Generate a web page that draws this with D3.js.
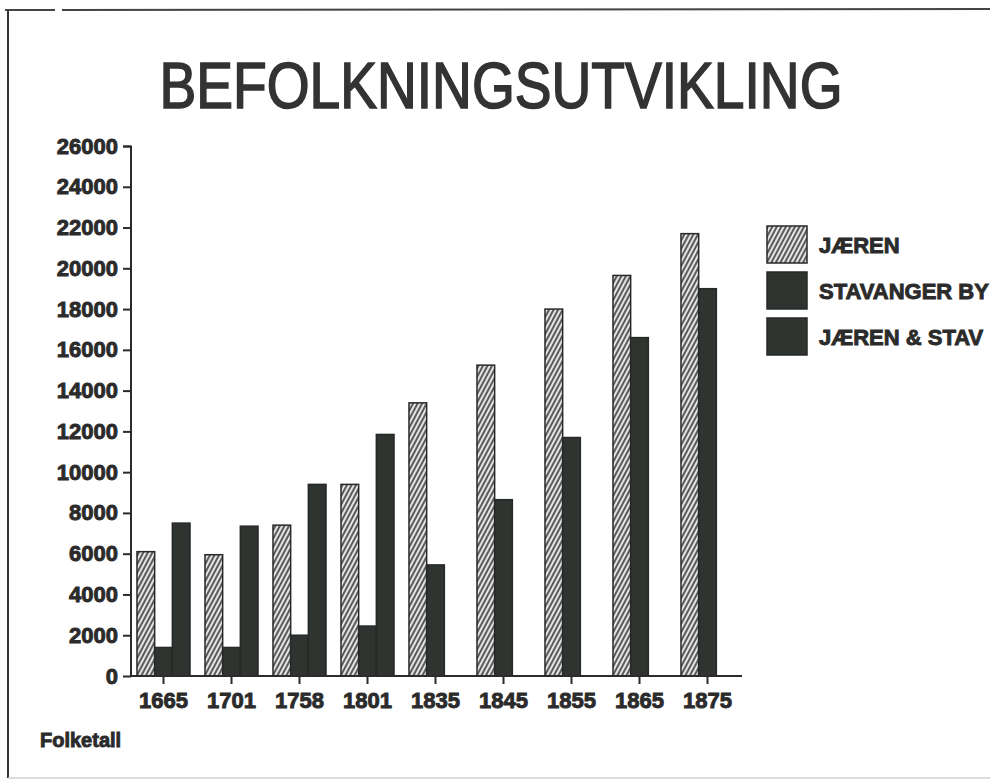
<!DOCTYPE html>
<html lang="no">

<head>
	<meta charset="utf-8">
	<title>Befolkningsutvikling</title>
	<script type="text/javascript" src="https://cdnjs.cloudflare.com/ajax/libs/d3/7.8.5/d3.min.js"></script>
	<style type="text/css">
		body {
			margin: 0;
			background: #ffffff;
		}

		svg {
			display: block;
			font-family: "Liberation Sans", Arial, sans-serif;
		}

		.lbl {
			font-weight: bold;
			fill: #2b2b2b;
			stroke: #2b2b2b;
			stroke-width: 0.9px;
		}
	</style>
</head>

<body>
	<script type="text/javascript">
		//Data
		var years = ["1665", "1701", "1758", "1801", "1835", "1845", "1855", "1865", "1875"];
		var jaeren = [6100, 5950, 7400, 9400, 13400, 15250, 18000, 19650, 21700];
		var stavangerBy = [1400, 1400, 2000, 2450, 5450, 8650, 11700, 16600, 19000];
		var jaerenStav = [7500, 7350, 9400, 11850, null, null, null, null, null];
		// legend text as far as it is visible on the scan
		var seriesNames = ["JÆREN", "STAVANGER BY", "JÆREN & STAV"];
		var yTicks = [0, 2000, 4000, 6000, 8000, 10000, 12000, 14000, 16000, 18000, 20000, 22000, 24000, 26000];

		//Width and height
		var w = 990;
		var h = 781;

		var dark = "#2f3430";
		var ink = "#2b2b2b";

		var svg = d3.select("body")
			.append("svg")
			.attr("width", w)
			.attr("height", h);

		//Hatch pattern for Jæren
		var defs = svg.append("defs");
		var pat = defs.append("pattern")
			.attr("id", "hatch")
			.attr("patternUnits", "userSpaceOnUse")
			.attr("width", 4)
			.attr("height", 4)
			.attr("patternTransform", "rotate(28)");
		pat.append("rect")
			.attr("width", 4)
			.attr("height", 4)
			.attr("fill", "#e4e4e4");
		pat.append("line")
			.attr("x1", 1).attr("y1", 0)
			.attr("x2", 1).attr("y2", 4)
			.attr("stroke", "#383838")
			.attr("stroke-width", 1.6);

		//Page frame from the scan
		svg.append("line")
			.attr("x1", 8).attr("y1", 10).attr("x2", 8).attr("y2", 778)
			.attr("stroke", "#333").attr("stroke-width", 2);
		svg.append("line")
			.attr("x1", 5).attr("y1", 10).attr("x2", 55).attr("y2", 10)
			.attr("stroke", "#444").attr("stroke-width", 2);
		svg.append("line")
			.attr("x1", 62).attr("y1", 10).attr("x2", 990).attr("y2", 9)
			.attr("stroke", "#444").attr("stroke-width", 2);
		svg.append("line")
			.attr("x1", 8).attr("y1", 778).attr("x2", 990).attr("y2", 778)
			.attr("stroke", "#d0d0d0").attr("stroke-width", 1.5);

		//Title
		svg.append("text")
			.attr("x", 501)
			.attr("y", 108)
			.attr("text-anchor", "middle")
			.attr("textLength", 683)
			.attr("lengthAdjust", "spacingAndGlyphs")
			.style("font-size", "64px")
			.style("fill", "#333")
			.style("stroke", "#333")
			.style("stroke-width", "1.6px")
			.text("BEFOLKNINGSUTVIKLING");

		//Scales
		var x0 = d3.scaleBand()
			.domain(years)
			.range([131, 740])
			.paddingInner(0.22)
			.paddingOuter(0.088);

		var x1 = d3.scaleBand()
			.domain([0, 1, 2])
			.range([0, x0.bandwidth()]);

		var y = d3.scaleLinear()
			.domain([0, 26000])
			.range([676, 146]);

		//Bars
		var rows = years.map(function(yr, i) {
			return { year: yr, values: [jaeren[i], stavangerBy[i], jaerenStav[i]] };
		});

		var groups = svg.selectAll("g.year")
			.data(rows)
			.enter()
			.append("g")
			.attr("class", "year")
			.attr("transform", function(d) { return "translate(" + x0(d.year) + ",0)"; });

		groups.selectAll("rect")
			.data(function(d) {
				return d.values.map(function(v, k) { return { k: k, v: v }; })
					.filter(function(e) { return e.v != null; });
			})
			.enter()
			.append("rect")
			.attr("x", function(d) { return x1(d.k); })
			.attr("y", function(d) { return y(d.v); })
			.attr("width", x1.bandwidth())
			.attr("height", function(d) { return y(0) - y(d.v); })
			.attr("fill", function(d) { return d.k === 0 ? "url(#hatch)" : dark; })
			.attr("stroke", "#262a27")
			.attr("stroke-width", 1.5);

		//Y axis
		var yAxis = d3.axisLeft(y)
			.tickValues(yTicks)
			.tickSize(8)
			.tickPadding(5)
			.tickFormat(d3.format("d"));

		var gy = svg.append("g")
			.attr("transform", "translate(131,0)")
			.call(yAxis);
		gy.select(".domain").attr("stroke", ink).attr("stroke-width", 2).attr("d", "M-8,146.5H0V676");
		gy.selectAll(".tick line").attr("stroke", ink).attr("stroke-width", 2);
		gy.selectAll(".tick text")
			.attr("class", "lbl")
			.style("font-size", "22px")
			.style("font-family", "'Liberation Sans', Arial, sans-serif");

		//X axis
		var xAxis = d3.axisBottom(x0)
			.tickSize(8)
			.tickPadding(8)
			.tickSizeOuter(0);

		var gx = svg.append("g")
			.attr("transform", "translate(0,676)")
			.call(xAxis);
		gx.select(".domain").attr("stroke", ink).attr("stroke-width", 2).attr("d", "M131,0H742");
		gx.selectAll(".tick line").attr("stroke", ink).attr("stroke-width", 2);
		gx.selectAll(".tick text")
			.attr("class", "lbl")
			.style("font-size", "22px")
			.style("font-family", "'Liberation Sans', Arial, sans-serif");

		//Axis caption
		svg.append("text")
			.attr("class", "lbl")
			.attr("x", 40)
			.attr("y", 747)
			.style("font-size", "20px")
			.text("Folketall");

		//Legend
		var legend = svg.selectAll("g.legend")
			.data(seriesNames)
			.enter()
			.append("g")
			.attr("class", "legend")
			.attr("transform", function(d, i) { return "translate(767," + (226 + i * 46) + ")"; });

		legend.append("rect")
			.attr("width", 40)
			.attr("height", 37)
			.attr("fill", function(d, i) { return i === 0 ? "url(#hatch)" : dark; })
			.attr("stroke", "#262a27")
			.attr("stroke-width", 1.5);

		legend.append("text")
			.attr("class", "lbl")
			.attr("x", 52)
			.attr("y", 19)
			.attr("dy", "0.36em")
			.style("font-size", "22px")
			.text(function(d) { return d; });
	</script>
</body>

</html>
